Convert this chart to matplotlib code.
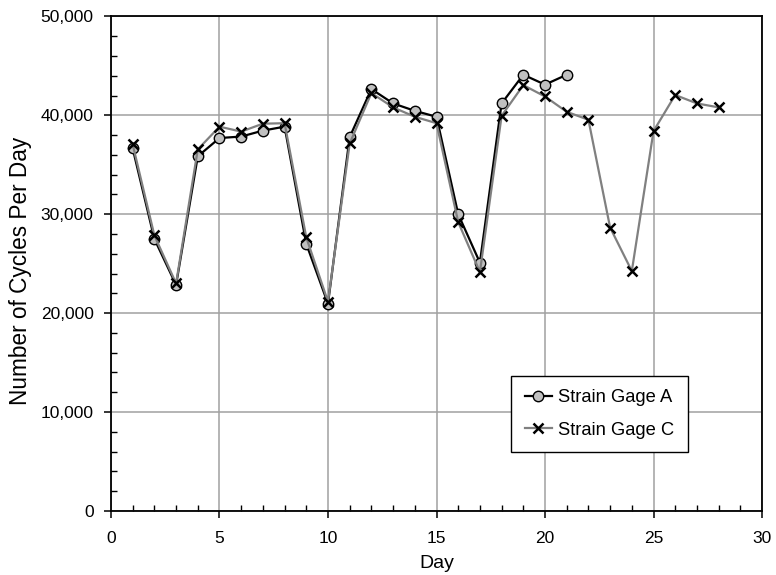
import matplotlib
matplotlib.use("Agg")
import matplotlib.pyplot as plt
from matplotlib.ticker import MultipleLocator, FuncFormatter

plt.rcParams['font.family'] = ['Liberation Sans', 'DejaVu Sans']

days_a = [1, 2, 3, 4, 5, 6, 7, 8, 9, 10, 11, 12, 13, 14, 15, 16, 17, 18, 19, 20, 21]
gage_a = [36650, 27500, 22850, 35850, 37700, 37850, 38450, 38850, 27000, 20950,
          37800, 42650, 41200, 40450, 39850, 30000, 25100, 41200, 44100, 43100, 44100]

days_c = [1, 2, 3, 4, 5, 6, 7, 8, 9, 10, 11, 12, 13, 14, 15, 16, 17, 18, 19, 20,
          21, 22, 23, 24, 25, 26, 27, 28]
gage_c = [37050, 27850, 23000, 36550, 38850, 38350, 39150, 39200, 27650, 21150,
          37150, 42250, 40800, 39850, 39200, 29200, 24150, 39950, 43050, 41900,
          40350, 39550, 28650, 24250, 38400, 42050, 41200, 40800]

fig = plt.figure(figsize=(7.76, 5.75), dpi=100)
ax = fig.add_axes([0.1430, 0.1115, 0.8390, 0.8600])

ax.plot(days_a, gage_a, color='black', linewidth=1.6, marker='o', markersize=7.5,
        markerfacecolor='#c0c0c0', markeredgecolor='black', markeredgewidth=1.0,
        label='Strain Gage A', zorder=3)
ax.plot(days_c, gage_c, color='#808080', linewidth=1.6, marker='x', markersize=6.5,
        markeredgecolor='black', markeredgewidth=1.8,
        label='Strain Gage C', zorder=4)

ax.set_xlim(0, 30)
ax.set_ylim(0, 50000)
ax.xaxis.set_major_locator(MultipleLocator(5))
ax.xaxis.set_minor_locator(MultipleLocator(1))
ax.yaxis.set_major_locator(MultipleLocator(10000))
ax.yaxis.set_minor_locator(MultipleLocator(2000))
ax.yaxis.set_major_formatter(FuncFormatter(lambda v, p: f"{int(v):,}"))

ax.grid(True, which='major', color='#a0a0a0', linewidth=1.1, zorder=0)
ax.set_axisbelow(True)

ax.tick_params(which='major', direction='out', length=5, width=1.1,
               labelsize=12.5, colors='black')
ax.tick_params(axis='y', which='major', pad=7.5)
ax.tick_params(axis='x', which='major', pad=9.5)
ax.tick_params(which='minor', direction='in', length=4, width=1.0)
for s in ax.spines.values():
    s.set_color('black')
    s.set_linewidth(1.3)

ax.set_xlabel('Day', fontsize=14, va='center')
ax.xaxis.set_label_coords(0.5, -0.107)
ax.set_ylabel('Number of Cycles Per Day', fontsize=16.3, va='center')
ax.yaxis.set_label_coords(-0.1385, 0.485)

leg = ax.legend(loc='upper left', bbox_to_anchor=(0.615, 0.2733), fontsize=13.2,
                frameon=True, fancybox=False, edgecolor='black', framealpha=1,
                handlelength=1.5, handletextpad=0.35, borderpad=0.72, labelspacing=0.85,
                borderaxespad=0)
leg.get_frame().set_linewidth(1.0)

fig.savefig('out.png', dpi=100)
